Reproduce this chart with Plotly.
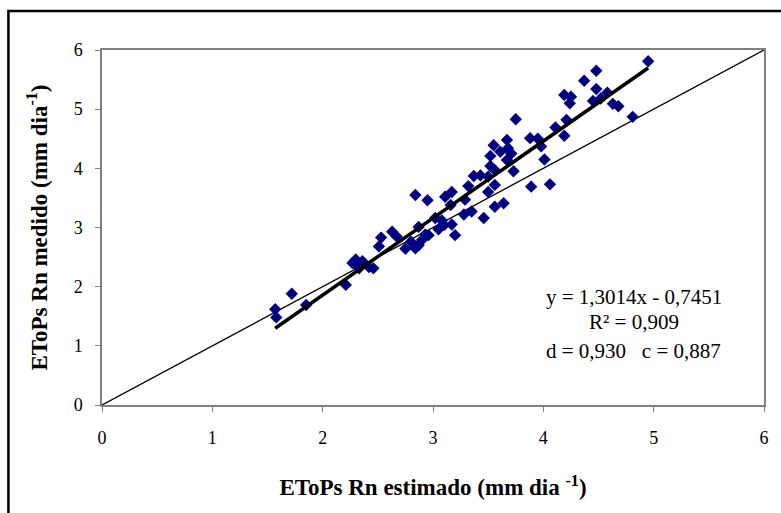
import plotly.graph_objects as go

# Estimated (x) and measured (y) EToPs Rn values, mm/dia
est = [1.57, 1.58, 1.72, 1.85, 2.21, 2.30, 2.36, 2.27, 2.33, 2.46, 2.51, 2.53, 2.63, 2.67,
       2.75, 2.80, 2.84, 2.87, 2.90, 2.93, 2.87, 2.96, 3.02, 3.05, 3.10, 3.17, 3.08, 3.20,
       2.84, 2.95, 3.11, 3.17, 3.16, 3.28, 3.35, 3.46, 3.29, 3.32, 3.37, 3.43, 3.50, 3.56,
       3.56, 3.64, 3.52, 3.56, 3.73, 3.52, 3.55, 3.61, 3.67, 3.68, 3.71, 3.67, 3.75, 3.88,
       3.95, 3.98, 4.01, 3.89, 4.06, 4.11, 4.19, 4.21, 4.19, 4.25, 4.24, 4.37, 4.48, 4.45,
       4.52, 4.48, 4.58, 4.63, 4.68, 4.81, 4.95, 2.42, 3.50]
med = [1.62, 1.48, 1.88, 1.69, 2.03, 2.46, 2.43, 2.40, 2.31, 2.31, 2.68, 2.83, 2.93, 2.85,
       2.64, 2.76, 2.65, 2.70, 2.79, 2.88, 3.01, 2.87, 3.16, 2.97, 3.04, 3.05, 3.12, 2.87,
       3.55, 3.46, 3.52, 3.60, 3.38, 3.22, 3.27, 3.16, 3.47, 3.70, 3.87, 3.88, 3.60, 3.72,
       3.35, 3.41, 4.04, 3.97, 3.95, 4.21, 4.39, 4.28, 4.14, 4.34, 4.25, 4.48, 4.83, 4.51,
       4.50, 4.37, 4.15, 3.69, 3.73, 4.69, 4.55, 4.82, 5.24, 5.21, 5.10, 5.48, 5.65, 5.14,
       5.18, 5.34, 5.28, 5.09, 5.05, 4.87, 5.81, 2.33, 3.86]

slope = 1.3014
intercept = -0.7451
eq_lines = ["y = 1,3014x - 0,7451", "R\u00b2 = 0,909", "d = 0,930   c = 0,887"]
ticks = [0, 1, 2, 3, 4, 5, 6]

xmin, xmax = min(est), max(est)
trend_x = [xmin, xmax]
trend_y = [slope * v + intercept for v in trend_x]

FONT = "Liberation Serif"
L, R, T, B = 102, 14, 50, 108
W, H = 781, 513
PW, PH = W - L - R, H - T - B


def px(xp):
    return (xp - L) / PW


def py(yp):
    return (H - B - yp) / PH


fig = go.Figure()
fig.add_trace(go.Scatter(x=[0, 6], y=[0, 6], mode="lines",
                         line=dict(color="black", width=1.3), hoverinfo="skip"))
fig.add_trace(go.Scatter(x=est, y=med, mode="markers",
                         marker=dict(symbol="diamond", size=9.5, color="#000080",
                                     line=dict(width=0))))
fig.add_trace(go.Scatter(x=trend_x, y=trend_y, mode="lines",
                         line=dict(color="black", width=3.5), hoverinfo="skip"))

fig.update_layout(
    width=W, height=H,
    margin=dict(l=L, r=R, t=T, b=B),
    paper_bgcolor="white", plot_bgcolor="white",
    showlegend=False,
    font=dict(family=FONT, color="black", size=18),
    xaxis=dict(range=[0, 6], tickvals=ticks, showgrid=False, zeroline=False,
               showline=True, linecolor="#808080", linewidth=1.5, mirror=True,
               ticks="outside", ticklen=5, tickcolor="#808080",
               ticklabelstandoff=11, tickfont=dict(size=18, family=FONT),
               title=dict(text="EToPs Rn estimado (mm dia <sup>-1</sup>)",
                          font=dict(size=23, family=FONT, weight="bold"), standoff=32)),
    yaxis=dict(range=[0, 6], tickvals=ticks, showgrid=False, zeroline=False,
               showline=True, linecolor="#808080", linewidth=1.5, mirror=True,
               ticks="outside", ticklen=5, tickcolor="#808080",
               ticklabelstandoff=9, tickfont=dict(size=18, family=FONT),
               title=dict(text="EToPs Rn medido (mm dia<sup>-1</sup>)",
                          font=dict(size=23, family=FONT, weight="bold"), standoff=20)),
)

for txt, yp in zip(eq_lines, [297, 322, 351]):
    fig.add_annotation(xref="paper", yref="paper", x=px(636), y=py(yp),
                       xanchor="center", yanchor="middle",
                       text=txt, showarrow=False,
                       font=dict(size=21, family=FONT))

# Outer chart frame
fig.add_shape(type="rect", xref="paper", yref="paper",
              x0=px(8), x1=1.1, y0=-0.4, y1=py(11),
              line=dict(color="black", width=2.5), layer="below")

fig.write_html("out.html", config={"displayModeBar": False},
               post_script="document.body.style.margin='0';")
